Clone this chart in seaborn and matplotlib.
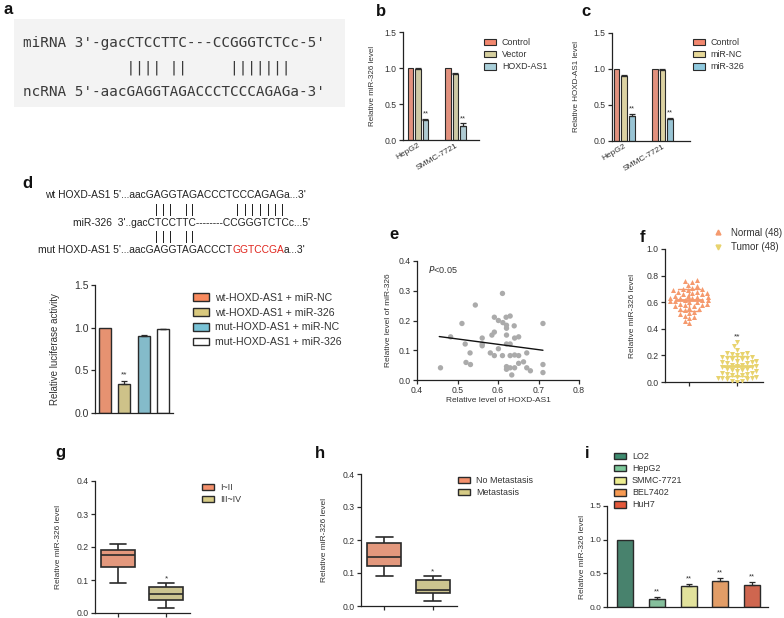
import numpy as np
import pandas as pd
import matplotlib
matplotlib.use("Agg")
import matplotlib.pyplot as plt
import seaborn as sns
from matplotlib.patches import Patch, Rectangle
from matplotlib.lines import Line2D

# ---------------- data ----------------
# panel b
b_cells = ["HepG2", "SMMC-7721"]
b_groups = ["Control", "Vector", "HOXD-AS1"]
b_vals = {"Control": [1.00, 1.00], "Vector": [0.98, 0.92], "HOXD-AS1": [0.28, 0.20]}
b_errs = {"Control": [0.0, 0.0], "Vector": [0.02, 0.012], "HOXD-AS1": [0.012, 0.03]}
b_colors = ["#F2876E", "#D5CF9E", "#A9CFD9"]
# panel c
c_cells = ["HepG2", "SMMC-7721"]
c_groups = ["Control", "miR-NC", "miR-326"]
c_vals = {"Control": [1.00, 1.00], "miR-NC": [0.90, 0.98], "miR-326": [0.35, 0.30]}
c_errs = {"Control": [0.0, 0.0], "miR-NC": [0.01, 0.02], "miR-326": [0.03, 0.02]}
c_colors = ["#F2876E", "#E6D898", "#8FC9DE"]
# panel d
d_labels = ["wt-HOXD-AS1 + miR-NC", "wt-HOXD-AS1 + miR-326",
            "mut-HOXD-AS1 + miR-NC", "mut-HOXD-AS1 + miR-326"]
d_vals = [1.00, 0.34, 0.90, 0.98]
d_errs = [0.0, 0.04, 0.015, 0.01]
d_colors = ["#F98A5E", "#D9C97E", "#78C2D6", "#FFFFFF"]
# panel e
e_x = [0.458, 0.483, 0.511, 0.544, 0.519, 0.531, 0.521, 0.532, 0.561, 0.561,
       0.561, 0.581, 0.585, 0.591, 0.591, 0.591, 0.601, 0.601, 0.611, 0.612,
       0.611, 0.620, 0.630, 0.621, 0.621, 0.621, 0.621, 0.630, 0.621, 0.621,
       0.630, 0.630, 0.634, 0.640, 0.641, 0.641, 0.641, 0.651, 0.651, 0.651,
       0.663, 0.671, 0.671, 0.680, 0.711, 0.711, 0.711]
e_y = [0.041, 0.145, 0.190, 0.252, 0.121, 0.091, 0.059, 0.052, 0.141, 0.121,
       0.115, 0.091, 0.151, 0.161, 0.211, 0.082, 0.200, 0.105, 0.291, 0.193,
       0.082, 0.211, 0.215, 0.184, 0.174, 0.151, 0.121, 0.121, 0.045, 0.036,
       0.082, 0.041, 0.017, 0.182, 0.141, 0.084, 0.041, 0.145, 0.082, 0.056,
       0.061, 0.091, 0.041, 0.031, 0.190, 0.052, 0.025]
e_fit_x = [0.455, 0.711]
e_fit_y = [0.146, 0.100]
# panel f
f_normal = [0.77, 0.76, 0.75, 0.73, 0.72, 0.71, 0.70, 0.70, 0.69, 0.69,
            0.68, 0.68, 0.67, 0.67, 0.66, 0.66, 0.65, 0.65, 0.64, 0.64,
            0.63, 0.63, 0.63, 0.62, 0.62, 0.62, 0.61, 0.61, 0.60, 0.60,
            0.59, 0.59, 0.58, 0.58, 0.57, 0.57, 0.56, 0.55, 0.55, 0.54,
            0.53, 0.52, 0.51, 0.50, 0.49, 0.48, 0.46, 0.44]
f_tumor = [0.30, 0.27, 0.24, 0.22, 0.22, 0.21, 0.21, 0.20, 0.19, 0.19,
           0.18, 0.18, 0.17, 0.17, 0.16, 0.16, 0.15, 0.15, 0.14, 0.14,
           0.13, 0.13, 0.12, 0.12, 0.11, 0.11, 0.10, 0.10, 0.09, 0.09,
           0.08, 0.08, 0.07, 0.07, 0.06, 0.06, 0.05, 0.05, 0.04, 0.04,
           0.03, 0.03, 0.03, 0.02, 0.02, 0.01, 0.01, 0.00]
f_groups = ["Normal (48)", "Tumor (48)"]
f_colors = ["#F59A6E", "#E8D36E"]
# panel g  (min, q1, median, q3, max)
g_groups = ["I~II", "III~IV"]
g_stats = {"I~II": [0.09, 0.14, 0.175, 0.19, 0.21],
           "III~IV": [0.015, 0.04, 0.057, 0.08, 0.09]}
# panel h
h_groups = ["No Metastasis", "Metastasis"]
h_stats = {"No Metastasis": [0.09, 0.12, 0.15, 0.19, 0.21],
           "Metastasis": [0.015, 0.04, 0.05, 0.08, 0.09]}
box_colors = ["#F4906C", "#D6CB86"]
# panel i
i_cells = ["LO2", "HepG2", "SMMC-7721", "BEL7402", "HuH7"]
i_vals = [1.00, 0.12, 0.31, 0.39, 0.33]
i_errs = [0.0, 0.035, 0.03, 0.04, 0.04]
i_colors = ["#3E8C70", "#7CC89A", "#EEEE90", "#F79A52", "#E4583A"]

# ---------------- setup ----------------
W, H = 784, 618
sns.set_theme(style="ticks")
plt.rcParams["font.family"] = ["Liberation Sans", "DejaVu Sans"]
plt.rcParams["axes.linewidth"] = 0.9
plt.rcParams["axes.edgecolor"] = "#222222"

fig = plt.figure(figsize=(W / 100, H / 100), dpi=100)
fig.patch.set_facecolor("white")

EDGE = "#2a2a2a"
TXT = "#333333"


def add_ax(x0, y0, x1, y1):
    ax = fig.add_axes([x0 / W, 1 - y1 / H, (x1 - x0) / W, (y1 - y0) / H])
    ax.set_facecolor("none")
    return ax


def ftext(x, y, s, **kw):
    return fig.text(x / W, 1 - y / H, s, **kw)


def style(ax, x0, x1, ylab, ylab_x, yfs=5.8):
    sns.despine(ax=ax)
    ax.tick_params(length=3, width=0.9, color=EDGE, labelsize=6.2,
                   labelcolor=TXT, pad=1.5)
    ax.set_xlabel("")
    ax.set_ylabel(ylab, fontsize=yfs, color=TXT)
    ax.yaxis.set_label_coords((ylab_x + 3.5 - x0) / (x1 - x0), 0.5)


def legend(ax, handles, labels, x, y, fs, spacing, hl=1.4, hh=0.8, tp=0.6):
    ax.legend(handles, labels, loc="upper left",
              bbox_to_anchor=(x / W, 1 - y / H), bbox_transform=fig.transFigure,
              frameon=False, fontsize=fs, borderpad=0, borderaxespad=0,
              handlelength=hl, handleheight=hh, handletextpad=tp,
              labelspacing=spacing, labelcolor=TXT)


def upper_err(ax, bars, errs):
    for bar, e in zip(bars, errs):
        xc = bar.get_x() + bar.get_width() / 2
        h = bar.get_height()
        if e > 0:
            ax.errorbar(xc, h, yerr=[[0], [e]], fmt="none", ecolor=EDGE,
                        elinewidth=0.9, capsize=2.0, capthick=0.9, zorder=1)


def letter(x, y, s):
    ftext(x, y, s, fontsize=12, fontweight="bold", ha="center", va="center",
          color="#111111")


# ---------------- panel a ----------------
fig.patches.append(Rectangle((14 / W, 1 - 107 / H), (345 - 14) / W, (107 - 19) / H,
                             transform=fig.transFigure, facecolor="#F3F3F3",
                             edgecolor="none", zorder=0))
mono = dict(family="DejaVu Sans Mono", fontsize=10.4, color="#3a3a3a", va="center")
ftext(23, 43, "miRNA 3'-gacCTCCTTC---CCGGGTCTCc-5'", **mono)
ftext(23, 68, " " * 12 + "||||" + " " + "||" + " " * 5 + "|||||||", **mono)
ftext(23, 92, "ncRNA 5'-aacGAGGTAGACCCTCCCAGAGa-3'", **mono)
letter(8, 10, "a")

# ---------------- panel b ----------------
bx0, by0, bx1, by1 = 403, 32, 479, 140
ax = add_ax(bx0, by0, bx1, by1)
df_b = pd.DataFrame({"cell": b_cells * 3,
                     "group": sum([[g] * 2 for g in b_groups], []),
                     "value": sum([b_vals[g] for g in b_groups], [])})
sns.barplot(data=df_b, x="cell", y="value", hue="group", hue_order=b_groups,
            order=b_cells, palette=b_colors, width=0.6, gap=0.25, errorbar=None,
            edgecolor=EDGE, linewidth=0.8, legend=False, ax=ax)
for cont, g in zip(ax.containers, b_groups):
    upper_err(ax, cont, b_errs[g])
    if g == "HOXD-AS1":
        for bar, e in zip(cont, b_errs[g]):
            ax.text(bar.get_x() + bar.get_width() / 2, bar.get_height() + e + 0.02,
                    "**", ha="center", va="bottom", fontsize=5.5, color=TXT)
ax.set_ylim(0, 1.5)
ax.set_xlim(-0.4, 1.63)
ax.set_yticks([0, 0.5, 1.0, 1.5], ["0.0", "0.5", "1.0", "1.5"])
style(ax, bx0, bx1, "Relative miR-326 level", 372)
ax.tick_params(axis="x", length=0)
plt.setp(ax.get_xticklabels(), rotation=30, ha="right", rotation_mode="anchor",
         fontsize=6)
legend(ax, [Patch(facecolor=c, edgecolor=EDGE, lw=0.8) for c in b_colors], b_groups,
       484, 38, 6.4, 0.35)
letter(381, 12, "b")

# ---------------- panel c ----------------
cx0, cy0, cx1, cy1 = 612, 33, 690, 141
ax = add_ax(cx0, cy0, cx1, cy1)
df_c = pd.DataFrame({"cell": c_cells * 3,
                     "group": sum([[g] * 2 for g in c_groups], []),
                     "value": sum([c_vals[g] for g in c_groups], [])})
sns.barplot(data=df_c, x="cell", y="value", hue="group", hue_order=c_groups,
            order=c_cells, palette=c_colors, width=0.6, gap=0.25, errorbar=None,
            edgecolor=EDGE, linewidth=0.8, legend=False, ax=ax)
for cont, g in zip(ax.containers, c_groups):
    upper_err(ax, cont, c_errs[g])
    if g == "miR-326":
        for bar, e in zip(cont, c_errs[g]):
            ax.text(bar.get_x() + bar.get_width() / 2, bar.get_height() + e + 0.02,
                    "**", ha="center", va="bottom", fontsize=5.5, color=TXT)
ax.set_ylim(0, 1.5)
ax.set_xlim(-0.32, 1.72)
ax.set_yticks([0, 0.5, 1.0, 1.5], ["0.0", "0.5", "1.0", "1.5"])
style(ax, cx0, cx1, "Relative HOXD-AS1 level", 577)
ax.tick_params(axis="x", length=0)
plt.setp(ax.get_xticklabels(), rotation=30, ha="right", rotation_mode="anchor",
         fontsize=6)
legend(ax, [Patch(facecolor=c, edgecolor=EDGE, lw=0.8) for c in c_colors], c_groups,
       693, 38, 6.4, 0.35)
letter(586, 12, "c")

# ---------------- panel d (sequences) ----------------
letter(27, 183, "d")
seq = dict(fontsize=7.4, color="#222222", va="baseline")
ftext(45, 198.5, "wt HOXD-AS1 5'...aacGAGGTAGACCCTCCCAGAGa...3'", **seq)
ftext(73, 225.5, "miR-326  3'..gacCTCCTTC--------CCGGGTCTCc...5'", **seq)
t1 = ftext(38, 253.5, "mut HOXD-AS1 5'...aacGAGGTAGACCCT", **seq)
fig.canvas.draw()
bb = t1.get_window_extent()
t2 = fig.text(bb.x1 / fig.bbox.width, 1 - 253.5 / H, "GGTCCGA",
              fontsize=7.4, color="#E0261E", va="baseline")
fig.canvas.draw()
bb2 = t2.get_window_extent()
fig.text(bb2.x1 / fig.bbox.width, 1 - 253.5 / H, "a...3'", **seq)
bar_kw = dict(fontsize=8.5, color="#222222", ha="center", va="center")
for xb in [157, 163.5, 170, 186, 193, 238, 245.5, 253, 260.5, 268, 275.5, 283]:
    ftext(xb, 210, "|", **bar_kw)
for xb in [157, 163.5, 170, 186, 193]:
    ftext(xb, 237, "|", **bar_kw)

# ---------------- panel d (bars) ----------------
dx0, dy0, dx1, dy1 = 95, 285, 173, 413
ax = add_ax(dx0, dy0, dx1, dy1)
sns.barplot(x=d_labels, y=d_vals, hue=d_labels, palette=d_colors, width=0.62,
            edgecolor=EDGE, linewidth=1.0, legend=False, errorbar=None, ax=ax)
bars = sorted(ax.patches, key=lambda p: p.get_x())
upper_err(ax, bars, d_errs)
ax.text(bars[1].get_x() + bars[1].get_width() / 2, d_vals[1] + d_errs[1] + 0.02,
        "**", ha="center", va="bottom", fontsize=6, color=TXT)
ax.set_ylim(0, 1.5)
ax.set_xlim(-0.52, 3.52)
ax.set_yticks([0, 0.5, 1.0, 1.5], ["0.0", "0.5", "1.0", "1.5"])
ax.set_xticks([])
style(ax, dx0, dx1, "Relative luciferase activity", 57, yfs=7)
ax.tick_params(axis="y", labelsize=7.5)
legend(ax, [Patch(facecolor=c, edgecolor=EDGE, lw=1.0) for c in d_colors], d_labels,
       193, 293, 7.6, 0.45, hl=1.5, hh=0.75)

# ---------------- panel e ----------------
ex0, ey0, ex1, ey1 = 417, 261, 579, 380
ax = add_ax(ex0, ey0, ex1, ey1)
sns.scatterplot(x=e_x, y=e_y, color="#ABABAB", s=15, edgecolor="none", ax=ax)
sns.lineplot(x=e_fit_x, y=e_fit_y, color="#111111", lw=1.0, ax=ax)
ax.set_xlim(0.4, 0.8)
ax.set_ylim(0, 0.4)
ax.set_xticks([0.4, 0.5, 0.6, 0.7, 0.8])
ax.set_yticks([0, 0.1, 0.2, 0.3, 0.4], ["0.0", "0.1", "0.2", "0.3", "0.4"])
style(ax, ex0, ex1, "Relative level of miR-326", 388, yfs=6)
ax.set_xlabel("Relative level of HOXD-AS1", fontsize=6, color=TXT, labelpad=1)
ax.text(0.07, 0.93, "$P$<0.05", transform=ax.transAxes, fontsize=6.5,
        color=TXT, va="center")
letter(394, 234, "e")

# ---------------- panel f ----------------
fx0, fy0, fx1, fy1 = 665, 249, 763, 382
ax = add_ax(fx0, fy0, fx1, fy1)
df_f = pd.DataFrame({"group": [f_groups[0]] * len(f_normal) + [f_groups[1]] * len(f_tumor),
                     "value": f_normal + f_tumor})
sns.swarmplot(data=df_f[df_f.group == f_groups[0]], x="group", y="value",
              order=f_groups, color=f_colors[0], marker="^", size=3.6,
              linewidth=0, ax=ax)
sns.swarmplot(data=df_f[df_f.group == f_groups[1]], x="group", y="value",
              order=f_groups, color=f_colors[1], marker="v", size=3.6,
              linewidth=0, ax=ax)
sns.pointplot(data=df_f, x="group", y="value", order=f_groups, hue="group",
              hue_order=f_groups, palette=f_colors, errorbar="sd", capsize=0.45,
              markers="_", markersize=20, linestyles="none", legend=False,
              err_kws={"linewidth": 1.0}, ax=ax)
ax.text(1, 0.315, "**", ha="center", va="bottom", fontsize=6, color=TXT)
ax.set_xlim(-0.5, 1.54)
ax.set_ylim(0, 1.0)
ax.set_yticks([0, 0.2, 0.4, 0.6, 0.8, 1.0], ["0.0", "0.2", "0.4", "0.6", "0.8", "1.0"])
ax.set_xticks([0, 1], ["", ""])
style(ax, fx0, fx1, "Relative miR-326 level", 632, yfs=6)
legend(ax, [Line2D([], [], marker="^", ls="none", color=f_colors[0], markersize=3.5),
            Line2D([], [], marker="v", ls="none", color=f_colors[1], markersize=3.5)],
       f_groups, 714, 228, 7.0, 0.45, hl=0.8, tp=0.9)
letter(643, 238, "f")

# ---------------- panel g ----------------
gx0, gy0, gx1, gy1 = 95, 481, 190, 613
ax = add_ax(gx0, gy0, gx1, gy1)
df_g = pd.DataFrame({"stage": sum([[g] * 5 for g in g_groups], []),
                     "value": sum([g_stats[g] for g in g_groups], [])})
sns.boxplot(data=df_g, x="stage", y="value", hue="stage", order=g_groups,
            hue_order=g_groups, palette=box_colors, whis=(0, 100), width=0.7,
            linewidth=1.2, linecolor=EDGE, legend=False, ax=ax)
ax.text(1, 0.093, "*", ha="center", va="bottom", fontsize=6, color=TXT)
ax.set_xlim(-0.48, 1.5)
ax.set_ylim(0, 0.4)
ax.set_yticks([0, 0.1, 0.2, 0.3, 0.4], ["0.0", "0.1", "0.2", "0.3", "0.4"])
ax.set_xticks([0, 1], ["", ""])
style(ax, gx0, gx1, "Relative miR-326 level", 59, yfs=6)
legend(ax, [Patch(facecolor=c, edgecolor=EDGE, lw=1.0) for c in box_colors], g_groups,
       202, 483, 6.4, 0.35)
letter(60, 452, "g")

# ---------------- panel h ----------------
hx0, hy0, hx1, hy1 = 361, 474, 457, 606
ax = add_ax(hx0, hy0, hx1, hy1)
df_h = pd.DataFrame({"meta": sum([[g] * 5 for g in h_groups], []),
                     "value": sum([h_stats[g] for g in h_groups], [])})
sns.boxplot(data=df_h, x="meta", y="value", hue="meta", order=h_groups,
            hue_order=h_groups, palette=box_colors, whis=(0, 100), width=0.7,
            linewidth=1.2, linecolor=EDGE, legend=False, ax=ax)
ax.text(1, 0.093, "*", ha="center", va="bottom", fontsize=6, color=TXT)
ax.set_xlim(-0.48, 1.5)
ax.set_ylim(0, 0.4)
ax.set_yticks([0, 0.1, 0.2, 0.3, 0.4], ["0.0", "0.1", "0.2", "0.3", "0.4"])
ax.set_xticks([0, 1], ["", ""])
style(ax, hx0, hx1, "Relative miR-326 level", 325, yfs=6)
legend(ax, [Patch(facecolor=c, edgecolor=EDGE, lw=1.0) for c in box_colors], h_groups,
       458, 476, 6.4, 0.35)
letter(320, 453, "h")

# ---------------- panel i ----------------
ix0, iy0, ix1, iy1 = 607, 506, 768, 607
ax = add_ax(ix0, iy0, ix1, iy1)
sns.barplot(x=i_cells, y=i_vals, hue=i_cells, palette=i_colors, width=0.5,
            edgecolor=EDGE, linewidth=1.0, legend=False, errorbar=None, ax=ax)
bars = sorted(ax.patches, key=lambda p: p.get_x())
upper_err(ax, bars, i_errs)
for bar, v, e in zip(bars[1:], i_vals[1:], i_errs[1:]):
    ax.text(bar.get_x() + bar.get_width() / 2, v + e + 0.02, "**",
            ha="center", va="bottom", fontsize=5.5, color=TXT)
ax.set_ylim(0, 1.5)
ax.set_xlim(-0.57, 4.5)
ax.set_yticks([0, 0.5, 1.0, 1.5], ["0.0", "0.5", "1.0", "1.5"])
ax.set_xticks([])
style(ax, ix0, ix1, "Relative miR-326 level", 582, yfs=6)
ax.tick_params(axis="y", labelsize=6.0, pad=1.2)
legend(ax, [Patch(facecolor=c, edgecolor=EDGE, lw=1.0) for c in i_colors], i_cells,
       614, 452, 6.4, 0.35)
letter(587, 453, "i")

fig.savefig("out.png", dpi=100)
